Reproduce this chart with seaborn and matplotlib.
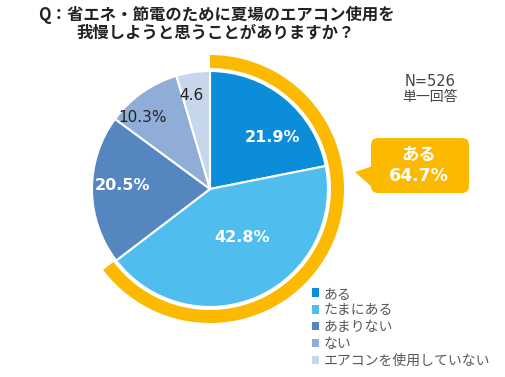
import matplotlib
matplotlib.use("Agg")
import matplotlib.pyplot as plt
from matplotlib.patches import Wedge, FancyBboxPatch, Polygon, Patch
import seaborn as sns

# ---- data ----
categories = ["ある", "たまにある", "あまりない", "ない", "エアコンを使用していない"]
values = [21.9, 42.8, 20.5, 10.3, 4.6]
value_labels = ["21.9%", "42.8%", "20.5%", "10.3%", "4.6"]
highlight_label = "ある\n64.7%"
highlight_value = 64.7
title_lines = ["Q：省エネ・節電のために夏場のエアコン使用を", "我慢しようと思うことがありますか？"]
note_lines = ["N=526", "単一回答"]

sns.set_style("white")
plt.rcParams['font.family'] = ['Noto Sans CJK JP', 'DejaVu Sans']

colors = sns.color_palette(["#0B8DD9", "#4FBEEE", "#5686C0", "#8FADD6", "#C7D7EB"])
yellow = "#FBB900"

W, H = 506, 377
fig = plt.figure(figsize=(W / 100, H / 100), dpi=100)
ax = fig.add_axes([0, 0, 1, 1])

def Y(y):
    return H - y

cx, cy, r = 210, 189, 118

wedges, _ = ax.pie(values, colors=colors, startangle=90, counterclock=False,
                   center=(cx, Y(cy)), radius=r,
                   wedgeprops=dict(edgecolor="white", linewidth=1.5))

# highlight ring for "ある" + "たまにある"
ring = Wedge((cx, Y(cy)), 134, 90 - highlight_value * 3.6, 90, width=13,
             facecolor=yellow, edgecolor="none")
ax.add_patch(ring)

# value labels
label_pos = [(273, 138), (242, 238), (123, 186), (143, 118), (191, 95)]
label_style = [("white", "bold", 11.5), ("white", "bold", 11.5), ("white", "bold", 11.5),
               ("#222222", "normal", 11), ("#222222", "normal", 11)]
for txt, (x, y), (c, w, s) in zip(value_labels, label_pos, label_style):
    ax.text(x, Y(y), txt, ha="center", va="center", color=c, fontweight=w,
            fontsize=s, family="DejaVu Sans")

# callout box
box = FancyBboxPatch((371, Y(193)), 98, 55, boxstyle="round,pad=0,rounding_size=7",
                     facecolor=yellow, edgecolor="none")
ax.add_patch(box)
ax.add_patch(Polygon([(373, Y(166)), (355, Y(172)), (373, Y(188))], closed=True,
                     facecolor=yellow, edgecolor="none"))
ax.text(419, Y(155), highlight_label.split("\n")[0], ha="center", va="center",
        color="white", fontweight="bold", fontsize=12.5)
ax.text(419, Y(176), highlight_label.split("\n")[1], ha="center", va="center",
        color="white", fontweight="bold", fontsize=12.5, family="DejaVu Sans")

# title
ax.text(216, Y(15), title_lines[0], ha="center", va="center", fontsize=11.8,
        fontweight="bold", color="#222222")
ax.text(216, Y(33), title_lines[1], ha="center", va="center", fontsize=11.8,
        fontweight="bold", color="#222222")

# note
ax.text(430, Y(82), note_lines[0], ha="center", va="center", fontsize=10.5,
        color="#444444", family="DejaVu Sans")
ax.text(430, Y(97), note_lines[1], ha="center", va="center", fontsize=10,
        color="#444444")

# legend
handles = [Patch(facecolor=c, edgecolor="none") for c in colors]
leg = ax.legend(handles, categories, loc="upper left",
                bbox_to_anchor=(306 / W, 1 - 281 / H), frameon=False,
                fontsize=10, handlelength=0.55, handleheight=0.55,
                handletextpad=0.3, labelspacing=0.2, borderaxespad=0)
for t in leg.get_texts():
    t.set_color("#595959")

ax.set_xlim(0, W)
ax.set_ylim(0, H)
ax.set_aspect("equal")
ax.axis("off")

fig.savefig("out.png", dpi=100, facecolor="white")
